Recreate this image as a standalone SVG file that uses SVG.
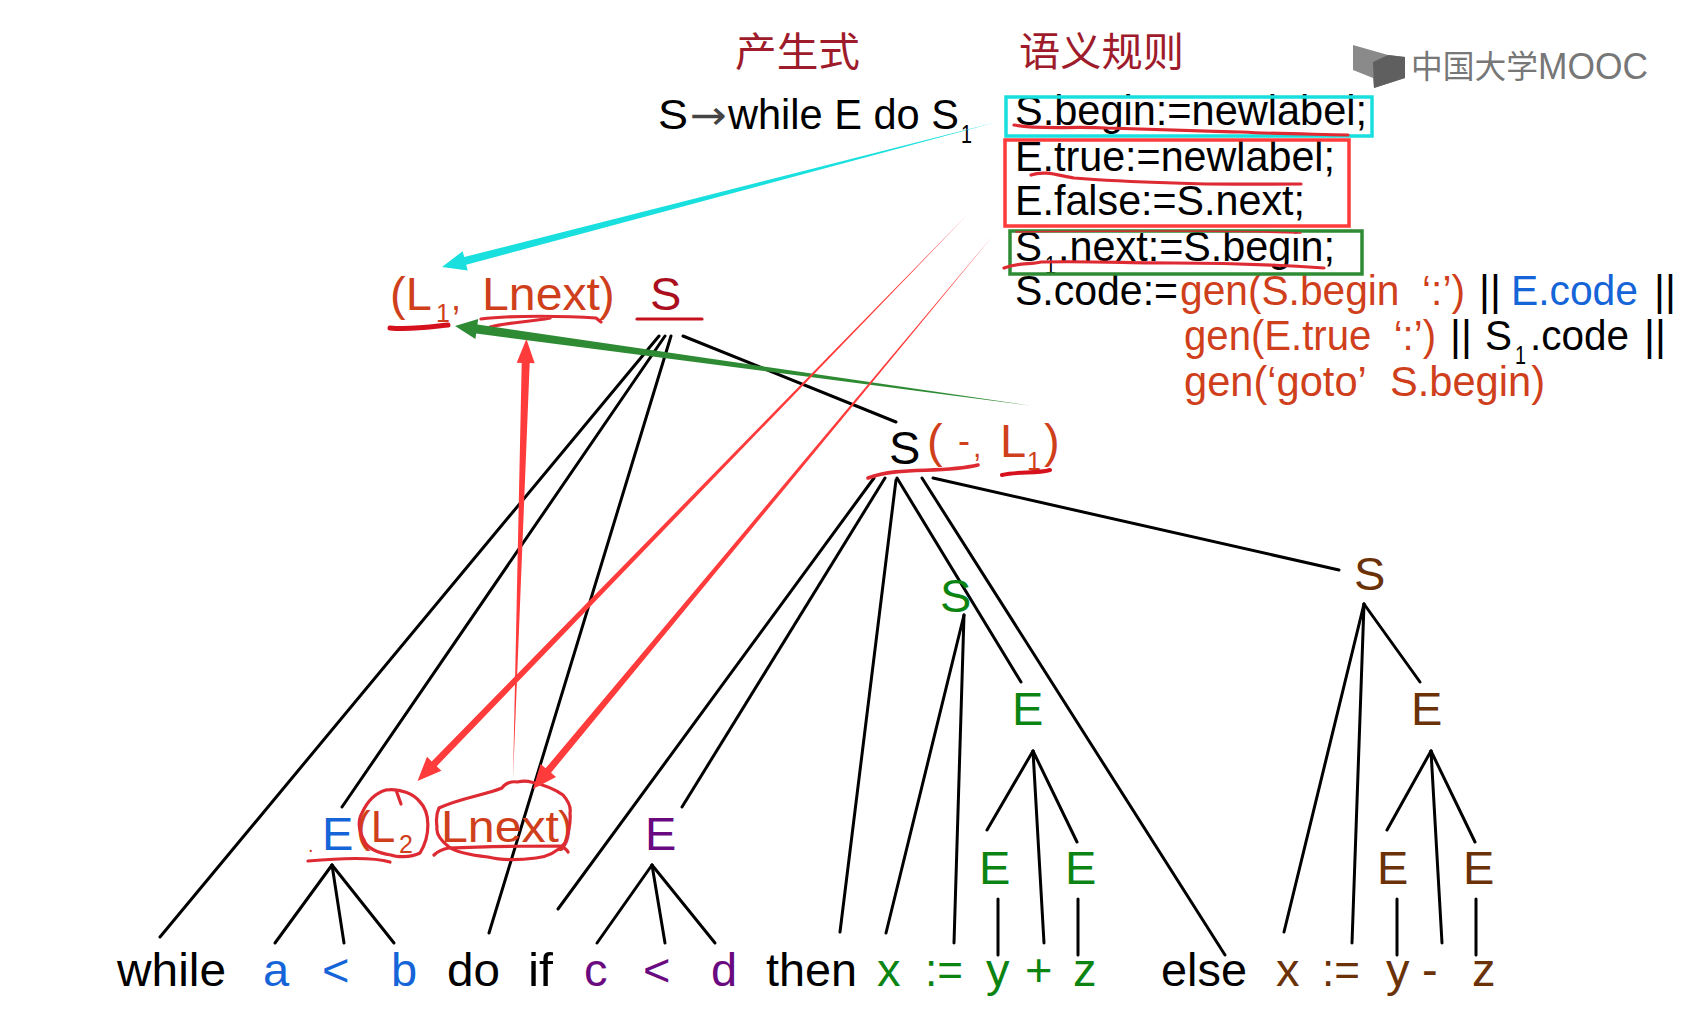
<svg xmlns="http://www.w3.org/2000/svg" width="1687" height="1019" viewBox="0 0 1687 1019">
<style>
text{font-family:"Liberation Sans",Arial,sans-serif;font-size:47px;fill:#000}
.cjk{font-family:"Noto Sans CJK SC","Liberation Sans",sans-serif}
.title{font-size:40px;fill:#9e1b2b}
.r{font-size:42px}
.sub{font-size:25px}
.or{fill:#cf3f1c}
.dr{fill:#ab0f1e}
.bl{fill:#1565d8}
.pu{fill:#6a0a80}
.gr{fill:#0b8412}
.br{fill:#6b3208}
.tree line{stroke:#000;stroke-width:3;stroke-linecap:round}
.box{fill:none;stroke-width:3.5}
.ink{fill:none;stroke:#de2a32;stroke-width:3.2;stroke-linecap:round;stroke-linejoin:round}
</style>
<rect width="1687" height="1019" fill="#fff"/>

<g id="logo">
<polygon points="1353,45 1388,55 1405,57 1405,78 1374,88 1373,78 1353,70" fill="#8a8a8a"/>
<polygon points="1373,62 1388,55 1405,57 1405,78 1374,88" fill="#5f5f5f"/>
<text class="cjk" x="1411" y="78" style="font-size:32px;fill:#777" textLength="127" lengthAdjust="spacingAndGlyphs">中国大学</text>
<text x="1538" y="79" style="font-size:36px;fill:#777" textLength="110" lengthAdjust="spacingAndGlyphs">MOOC</text>
</g>

<g id="headers">
<text class="cjk title" x="735" y="66" textLength="125" lengthAdjust="spacingAndGlyphs">产生式</text>
<text class="cjk title" x="1019" y="66" textLength="165" lengthAdjust="spacingAndGlyphs">语义规则</text>
</g>

<g id="production">
<text class="r" x="658" y="129" textLength="30" lengthAdjust="spacingAndGlyphs">S</text>
<text x="690" y="129" style="font-family:'DejaVu Sans',sans-serif;font-size:40px;fill:#444" textLength="37" lengthAdjust="spacingAndGlyphs">→</text>
<text class="r" x="728" y="129" textLength="231" lengthAdjust="spacingAndGlyphs">while E do S</text>
<text class="sub" x="961" y="143" textLength="11" lengthAdjust="spacingAndGlyphs">1</text>
</g>

<g id="rules">
<text class="r" x="1015" y="125" textLength="352" lengthAdjust="spacingAndGlyphs">S.begin:=newlabel;</text>
<text class="r" x="1015" y="171" textLength="320" lengthAdjust="spacingAndGlyphs">E.true:=newlabel;</text>
<text class="r" x="1015" y="215" textLength="290" lengthAdjust="spacingAndGlyphs">E.false:=S.next;</text>
<text class="r" x="1015" y="261" textLength="27" lengthAdjust="spacingAndGlyphs">S</text>
<text class="sub" x="1045" y="274" textLength="11" lengthAdjust="spacingAndGlyphs">1</text>
<text class="r" x="1058" y="261" textLength="277" lengthAdjust="spacingAndGlyphs">.next:=S.begin;</text>
<text class="r" x="1015" y="305" textLength="163" lengthAdjust="spacingAndGlyphs">S.code:=</text>
<text class="r or" x="1180" y="305" textLength="285" lengthAdjust="spacingAndGlyphs">gen(S.begin&#160; ‘:’)</text>
<text class="r" x="1479" y="305">||</text>
<text class="r bl" x="1511" y="305" textLength="127" lengthAdjust="spacingAndGlyphs">E.code</text>
<text class="r" x="1654" y="305">||</text>
<text class="r or" x="1184" y="350" textLength="252" lengthAdjust="spacingAndGlyphs">gen(E.true&#160; ‘:’)</text>
<text class="r" x="1450" y="350">||</text>
<text class="r" x="1485" y="350" textLength="27" lengthAdjust="spacingAndGlyphs">S</text>
<text class="sub" x="1515" y="364" textLength="11" lengthAdjust="spacingAndGlyphs">1</text>
<text class="r" x="1530" y="350" textLength="99" lengthAdjust="spacingAndGlyphs">.code</text>
<text class="r" x="1644" y="350">||</text>
<text class="r or" x="1184" y="396" textLength="361" lengthAdjust="spacingAndGlyphs">gen(‘goto’&#160; S.begin)</text>
<rect class="box" x="1006" y="97" width="366" height="39" stroke="#1adfdf"/>
<rect class="box" x="1005" y="140" width="344" height="86" stroke="#ff3b3b"/>
<rect class="box" x="1010" y="231" width="352" height="43" stroke="#2e8b34"/>
<path class="ink" d="M1014,125 C1040,130 1070,126 1107,128 C1160,130 1200,131 1241,132 C1280,134 1310,134 1348,135"/>
<path class="ink" d="M1031,175 C1045,170 1060,176 1074,178 C1110,181 1140,182 1174,183 C1220,185 1260,184 1301,184"/>
<path class="ink" style="stroke-width:1.6" d="M1016,232 C1100,231 1220,230 1301,233"/>
<path class="ink" d="M1004,268 C1020,262 1030,265 1041,262 C1090,261 1130,263 1174,263 C1230,263 1280,265 1324,268"/>
</g>

<g id="connectors" class="tree">
<line x1="659" y1="336" x2="160" y2="937"/>
<line x1="665" y1="336" x2="342" y2="807"/>
<line x1="671" y1="336" x2="489" y2="933"/>
<line x1="683" y1="336" x2="896" y2="422"/>
<line x1="874" y1="478" x2="558" y2="909"/>
<line x1="885" y1="478" x2="682" y2="807"/>
<line x1="896" y1="480" x2="840" y2="932"/>
<line x1="897" y1="478" x2="1021" y2="682"/>
<line x1="922" y1="478" x2="1225" y2="955"/>
<line x1="933" y1="478" x2="1339" y2="570"/>
<line x1="332" y1="865" x2="275" y2="943"/>
<line x1="332" y1="865" x2="344" y2="943"/>
<line x1="332" y1="865" x2="394" y2="943"/>
<line x1="652" y1="865" x2="597" y2="943"/>
<line x1="652" y1="865" x2="665" y2="943"/>
<line x1="652" y1="865" x2="715" y2="943"/>
<line x1="964" y1="615" x2="886" y2="933"/>
<line x1="964" y1="615" x2="954" y2="943"/>
<line x1="1033" y1="751" x2="987" y2="830"/>
<line x1="1033" y1="751" x2="1044" y2="943"/>
<line x1="1033" y1="751" x2="1077" y2="842"/>
<line x1="998" y1="899" x2="998" y2="955"/>
<line x1="1078" y1="899" x2="1078" y2="955"/>
<line x1="1364" y1="604" x2="1284" y2="932"/>
<line x1="1364" y1="604" x2="1352" y2="943"/>
<line x1="1364" y1="604" x2="1420" y2="682"/>
<line x1="1431" y1="751" x2="1387" y2="830"/>
<line x1="1431" y1="751" x2="1442" y2="943"/>
<line x1="1431" y1="751" x2="1475" y2="842"/>
<line x1="1397" y1="899" x2="1397" y2="955"/>
<line x1="1476" y1="899" x2="1476" y2="955"/>
</g>

<g id="node-root">
<text class="or" x="390" y="310">(L</text>
<text class="sub or" x="436" y="322">1</text>
<text class="or" x="451" y="310" style="font-size:36px">,</text>
<text class="or" x="482" y="310" textLength="118" lengthAdjust="spacingAndGlyphs">Lnext</text>
<text class="or" x="599" y="310">)</text>
<text class="dr" x="650" y="310">S</text>
<path class="ink" style="stroke:#c6101c" d="M637,319 H702"/>
<path class="ink" d="M481,319 C510,315 570,316 596,318 L601,322 M490,327 C510,322 530,322 550,318"/>
<path class="ink" style="stroke:#d6101c;stroke-width:5" d="M390,328 C410,330 430,327 448,325"/>
</g>

<g id="node-s-mid">
<text x="889" y="464">S</text>
<text class="or" x="927" y="457">(</text>
<text class="or" x="958" y="453" style="font-size:36px">-</text>
<text class="or" x="973" y="457" style="font-size:30px">,</text>
<text class="or" x="1000" y="457">L</text>
<text class="sub or" x="1027" y="470">1</text>
<text class="or" x="1044" y="457">)</text>
<path class="ink" style="stroke-width:3.6" d="M868,478 C900,466 940,474 978,465"/>
<path class="ink" style="stroke:#d6101c;stroke-width:4" d="M1002,475 C1020,471 1035,474 1050,470"/>
</g>

<g id="node-e-while">
<text class="bl" x="322" y="850">E</text>
<text class="or" x="308" y="852" style="font-size:20px">.</text>
<text class="or" x="356" y="842" style="font-size:44px">(L</text>
<text class="sub or" x="399" y="853">2</text>
<text class="or" x="441" y="842" textLength="118" lengthAdjust="spacingAndGlyphs" style="font-size:44px">Lnext</text>
<text class="or" x="558" y="842" style="font-size:44px">)</text>
<path class="ink" d="M308,861 C330,859 370,856 390,862"/>
<path class="ink" d="M386,790 C400,788 414,794 420,802 C430,812 431,835 420,853 C410,858 396,857 391,855 C378,853 366,848 364,840 C358,830 358,820 362,813 C367,802 375,793 386,790 M396,790 L401,804"/>
<path class="ink" d="M439,808 C460,798 485,795 502,788 C505,783 512,781 517,782 C522,781 528,781 531,782 C545,785 556,790 563,795 C570,803 571,808 570,813 C571,825 568,835 565,843 C557,852 548,857 536,858 C520,860 500,860 488,857 C470,855 456,852 449,847 C440,840 436,833 437,827 C436,820 436,814 439,808 Z"/>
<path class="ink" d="M434,855 C438,851 443,849 449,848 C490,846 530,846 560,846 C565,848 567,850 568,852"/>
</g>

<g id="node-e-if"><text class="pu" x="645" y="850">E</text></g>
<g id="node-s-then"><text class="gr" x="940" y="612">S</text></g>
<g id="node-e-then"><text class="gr" x="1012" y="725">E</text></g>
<g id="node-e-then-l"><text class="gr" x="979" y="884">E</text></g>
<g id="node-e-then-r"><text class="gr" x="1065" y="884">E</text></g>
<g id="node-s-else"><text class="br" x="1354" y="590">S</text></g>
<g id="node-e-else"><text class="br" x="1411" y="725">E</text></g>
<g id="node-e-else-l"><text class="br" x="1377" y="884">E</text></g>
<g id="node-e-else-r"><text class="br" x="1463" y="884">E</text></g>

<g id="leaves">
<text x="117" y="986" textLength="109" lengthAdjust="spacingAndGlyphs">while</text>
<text class="bl" x="263" y="986">a</text>
<text class="bl" x="322" y="986">&lt;</text>
<text class="bl" x="391" y="986">b</text>
<text x="447" y="986" textLength="53" lengthAdjust="spacingAndGlyphs">do</text>
<text x="528" y="986" textLength="25" lengthAdjust="spacingAndGlyphs">if</text>
<text class="pu" x="584" y="986">c</text>
<text class="pu" x="643" y="986">&lt;</text>
<text class="pu" x="711" y="986">d</text>
<text x="766" y="986" textLength="91" lengthAdjust="spacingAndGlyphs">then</text>
<text class="gr" x="877" y="986">x</text>
<text class="gr" x="925" y="986" textLength="38" lengthAdjust="spacingAndGlyphs">:=</text>
<text class="gr" x="986" y="986">y</text>
<text class="gr" x="1025" y="986">+</text>
<text class="gr" x="1073" y="986">z</text>
<text x="1161" y="986" textLength="86" lengthAdjust="spacingAndGlyphs">else</text>
<text class="br" x="1276" y="986">x</text>
<text class="br" x="1322" y="986" textLength="38" lengthAdjust="spacingAndGlyphs">:=</text>
<text class="br" x="1386" y="986">y</text>
<text class="br" x="1422" y="986">-</text>
<text class="br" x="1472" y="986">z</text>
</g>

<g id="arrows">
<polygon fill="#1adfdf" points="442,267 467.7,270.6 466.2,264.8 997,122 464.2,257 462.7,251.2"/>
<polygon fill="#2e8b34" points="455,326 475.4,338.9 476.2,333.5 1032.6,406 477.4,324.5 478.2,319.1"/>
<polygon fill="#ff3b3b" points="526.4,339 534.7,363.3 529.7,363.1 513,779 521.7,362.9 516.7,362.7"/>
<polygon fill="#ff3b3b" points="417.5,781 441.4,770.8 436.7,766.2 969,213 431.7,761.4 427,756.8"/>
<polygon fill="#ff3b3b" points="533,789 556,776.9 551,772.7 992.6,236 545.6,768.3 540.6,764.1"/>
</g>
</svg>
